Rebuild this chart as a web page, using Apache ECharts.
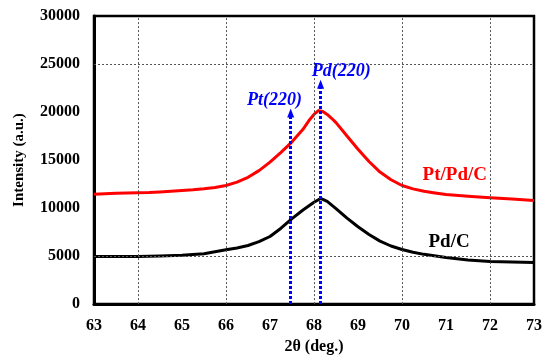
<!DOCTYPE html>
<html><head><meta charset="utf-8">
<script src="https://cdn.jsdelivr.net/npm/echarts@6/dist/echarts.min.js"></script>
<style>html,body{margin:0;padding:0;background:#fff}#c{width:545px;height:360px}</style>
</head><body><div id="c"></div>
<script>
// 2θ positions (deg.)
const ptpdX = [63.0,63.25,63.5,63.75,64.0,64.25,64.5,64.75,65.0,65.25,65.5,65.75,66.0,66.25,66.5,66.75,67.0,67.25,67.5,67.75,67.9,68.0,68.1,68.2,68.3,68.4,68.5,68.75,69.0,69.25,69.5,69.75,70.0,70.25,70.5,70.75,71.0,71.5,72.0,72.5,73.0];
const ptpdY = [11450,11500,11550,11580,11600,11620,11680,11750,11830,11900,12000,12150,12350,12700,13200,13900,14780,15800,16900,18200,19200,19750,20150,20050,19750,19350,18900,17500,16130,14850,13750,12950,12350,12000,11750,11580,11420,11230,11080,10950,10800];
const pdX = [63.0,63.5,64.0,64.5,65.0,65.5,66.0,66.25,66.5,66.75,67.0,67.25,67.5,67.75,68.0,68.15,68.3,68.5,68.75,69.0,69.25,69.5,69.75,70.0,70.25,70.5,71.0,71.5,72.0,72.5,73.0];
const pdY = [4950,4950,4950,5000,5080,5250,5650,5850,6100,6500,7040,7900,8900,9800,10600,11000,10700,9950,8950,8050,7250,6560,6050,5690,5400,5180,4850,4600,4440,4380,4340];
// peak markers
const peakNames = ['Pt(220)','Pd(220)'];
const peakPos = [67.47, 68.15];
const peakTop = [19900, 22900];
const peakLabelAt = [[67.1, 21200],[68.62, 24250]];
// series labels
const seriesNames = ['Pt/Pd/C','Pd/C'];
const seriesLabelAt = [[71.2, 13430],[71.07, 6460]];
// grid lines
const xGrid = [64,66,68,70,72];
const yGrid = [5000,25000];

const serif = '"Liberation Serif","Times New Roman",serif';
const zip = (a,b)=>a.map((v,i)=>[v,b[i]]);

const option = {
  animation:false,
  grid:{left:94,right:10,top:16,bottom:47,show:true,borderColor:'#000',borderWidth:2.5,backgroundColor:'#fff'},
  xAxis:{type:'value',min:63,max:73,interval:1,
    name:'2θ (deg.)',nameLocation:'middle',nameGap:32,
    nameTextStyle:{fontFamily:serif,fontWeight:'bold',fontSize:16,color:'#000'},
    axisLine:{lineStyle:{color:'#000',width:3}},axisTick:{show:false},
    axisLabel:{fontFamily:serif,fontWeight:'bold',fontSize:16,color:'#000',margin:14,formatter:v=>String(v)},
    splitLine:{show:false}},
  yAxis:{type:'value',min:0,max:30000,interval:5000,
    name:'Intensity (a.u.)',nameLocation:'middle',nameGap:67,
    nameTextStyle:{fontFamily:serif,fontWeight:'bold',fontSize:15,color:'#000'},
    axisLine:{show:true,lineStyle:{color:'#000',width:3}},axisTick:{show:false},
    axisLabel:{fontFamily:serif,fontWeight:'bold',fontSize:16,color:'#000',margin:14,formatter:v=>String(v)},
    splitLine:{show:false}},
  series:[
    {type:'line',data:[],silent:true,
     markLine:{silent:true,symbol:'none',label:{show:false},
       lineStyle:{color:'#555',width:1,type:[2,2]},
       data:[...xGrid.map(v=>({xAxis:v})),...yGrid.map(v=>({yAxis:v}))]}},
    {type:'line',name:seriesNames[0],data:zip(ptpdX,ptpdY),showSymbol:false,smooth:false,
     lineStyle:{color:'#ff0000',width:3,join:'round'},itemStyle:{color:'#ff0000'},z:3,
     markPoint:{symbolSize:0,data:[{coord:seriesLabelAt[0],
       label:{show:true,position:'inside',formatter:seriesNames[0],fontFamily:serif,fontWeight:'bold',fontSize:19,color:'#ff0000'}}]}},
    {type:'line',name:seriesNames[1],data:zip(pdX,pdY),showSymbol:false,smooth:false,
     lineStyle:{color:'#000',width:3,join:'round'},itemStyle:{color:'#000'},z:3,
     markPoint:{symbolSize:0,data:[{coord:seriesLabelAt[1],
       label:{show:true,position:'inside',formatter:seriesNames[1],fontFamily:serif,fontWeight:'bold',fontSize:19,color:'#000'}}]}},
    {type:'line',data:[],z:4,
     markLine:{silent:true,symbol:['none','triangle'],symbolSize:[7,9],label:{show:false},
       lineStyle:{color:'#0000ff',width:3,type:[3,2]},
       data:peakPos.map((p,i)=>[{coord:[p,0]},{coord:[p,peakTop[i]]}])},
     markPoint:{symbolSize:0,data:peakNames.map((n,i)=>({coord:peakLabelAt[i],
       label:{show:true,position:'inside',formatter:n,fontFamily:serif,fontWeight:'bold',fontStyle:'italic',fontSize:18,color:'#0000ff'}}))}}
  ]
};
echarts.init(document.getElementById('c'),null,{renderer:'canvas'}).setOption(option);
</script></body></html>
